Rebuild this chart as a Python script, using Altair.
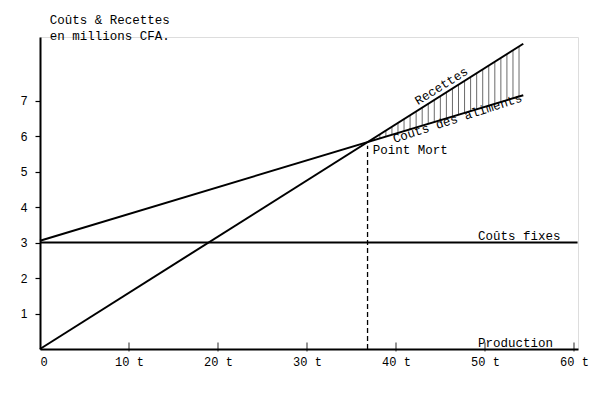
import altair as alt
import pandas as pd
import numpy as np

# Values (production in t, money in millions CFA)
rev_x = [0, 54.3]
rev_y = [0, 8.6]
cost_x = [0, 54.3]
cost_y = [3.05, 7.15]
fixed_x = [0, 60.4]
fixed_y = [3.0, 3.0]
x_ticks = [0, 10, 20, 30, 40, 50, 60]
x_tick_labels = ["0", "10 t", "20 t", "30 t", "40 t", "50 t", "60 t"]
y_ticks = [1, 2, 3, 4, 5, 6, 7]

XMAX = 60.45
YMAX = 8.79

r_slope = (rev_y[1] - rev_y[0]) / (rev_x[1] - rev_x[0])
c_slope = (cost_y[1] - cost_y[0]) / (cost_x[1] - cost_x[0])
be_x = (cost_y[0] - rev_y[0]) / (r_slope - c_slope)
be_y = rev_y[0] + r_slope * be_x

FONT = "Liberation Mono"

lines_df = pd.DataFrame({
    "x": rev_x + cost_x + fixed_x,
    "y": rev_y + cost_y + fixed_y,
    "s": ["Recettes"] * 2 + ["Coûts des aliments"] * 2 + ["Coûts fixes"] * 2,
})

hx = np.arange(be_x + 0.7, rev_x[1], 0.68)
hatch_df = pd.DataFrame({
    "x": hx,
    "y": cost_y[0] + c_slope * hx,
    "y2": rev_y[0] + r_slope * hx,
})

xs = alt.Scale(domain=[0, XMAX], nice=False, zero=False)
ys = alt.Scale(domain=[0, YMAX], nice=False, zero=False)

label_expr = "{" + ",".join(f"'{v}':'{l}'" for v, l in zip(x_ticks, x_tick_labels)) + "}[datum.value]"

base_x = alt.X("x:Q", scale=xs, axis=alt.Axis(
    values=x_ticks, labelExpr=label_expr, title=None, grid=False,
    domainColor="black", domainWidth=2, ticks=False, labelPadding=7,
    labelFont=FONT, labelFontSize=12, labelColor="black"))
base_y = alt.Y("y:Q", scale=ys, axis=alt.Axis(
    values=y_ticks, title=None, grid=False, domainColor="black", domainWidth=2,
    tickColor="black", tickSize=5, tickWidth=1.2, labelPadding=8,
    labelFont="Liberation Sans", labelFontSize=12, labelColor="black"))

lines = alt.Chart(lines_df).mark_line(color="black", strokeWidth=2).encode(
    x=base_x, y=base_y, detail="s:N")

hatch = alt.Chart(hatch_df).mark_rule(color="#444", strokeWidth=0.8).encode(
    x=alt.X("x:Q", scale=xs), y=alt.Y("y:Q", scale=ys), y2="y2:Q")

dash_df = pd.DataFrame({"x": [be_x], "y": [0.0], "y2": [be_y - 0.1]})
dash = alt.Chart(dash_df).mark_rule(color="black", strokeWidth=1.3, strokeDash=[5, 3]).encode(
    x=alt.X("x:Q", scale=xs), y=alt.Y("y:Q", scale=ys), y2="y2:Q")

xt_df = pd.DataFrame({"x": x_ticks[1:], "y": [0.0] * (len(x_ticks) - 1)})
xticks = alt.Chart(xt_df).mark_tick(color="black", orient="vertical", size=9, thickness=1.2, yOffset=-2).encode(
    x=alt.X("x:Q", scale=xs), y=alt.Y("y:Q", scale=ys))

ann_df = pd.DataFrame({
    "x": [1.1, 1.1, 37.4, 49.2, 49.2],
    "y": [9.27, 8.82, 5.6, 3.18, 0.17],
    "t": ["Coûts & Recettes", "en millions CFA.", "Point Mort", "Coûts fixes", "Production"],
})
ann = alt.Chart(ann_df).mark_text(font=FONT, fontSize=12.5, align="left", baseline="middle", color="black").encode(
    x=alt.X("x:Q", scale=xs), y=alt.Y("y:Q", scale=ys), text="t:N")

rec_df = pd.DataFrame({"x": [45.1], "y": [7.41], "t": ["Recettes"]})
rec = alt.Chart(rec_df).mark_text(font=FONT, fontSize=12.5, angle=328, baseline="middle", color="black").encode(
    x=alt.X("x:Q", scale=xs), y=alt.Y("y:Q", scale=ys), text="t:N")

cda_df = pd.DataFrame({"x": [46.9], "y": [6.5], "t": ["Coûts des aliments"]})
cda = alt.Chart(cda_df).mark_text(font=FONT, fontSize=12.5, angle=342, baseline="middle", color="black").encode(
    x=alt.X("x:Q", scale=xs), y=alt.Y("y:Q", scale=ys), text="t:N")

chart = alt.layer(hatch, lines, dash, xticks, ann, rec, cda).properties(
    width=538, height=312,
    autosize=alt.AutoSizeParams(type="none"),
    padding={"left": 32, "top": 29, "right": 14, "bottom": 36},
).configure_view(stroke=None).configure(background="white")

chart.save("out.html", embed_options={"renderer": "svg", "actions": False})
